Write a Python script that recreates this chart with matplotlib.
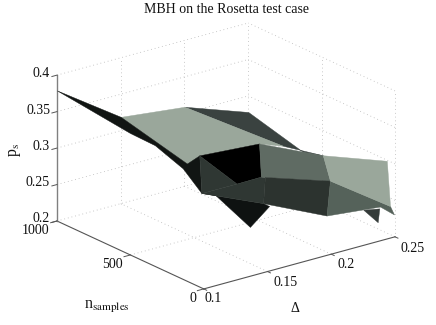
import matplotlib
matplotlib.use("Agg")
import matplotlib.pyplot as plt
from mpl_toolkits.mplot3d import proj3d
from mpl_toolkits.mplot3d.art3d import Poly3DCollection

plt.rcParams['font.family'] = ['Liberation Serif', 'DejaVu Serif']
plt.rcParams['mathtext.fontset'] = 'stix'

delta_ticks = [0.1, 0.15, 0.2, 0.25]
n_ticks = [0, 500, 1000]
p_ticks = [0.2, 0.25, 0.3, 0.35, 0.4]
delta_labels = ["0.1", "0.15", "0.2", "0.25"]
n_labels = ["0", "500", "1000"]
p_labels = ["0.2", "0.25", "0.3", "0.35", "0.4"]

# surface vertices
vert_delta = [0.1, 0.15, 0.2, 0.25, 0.25, 0.25, 0.25, 0.25, 0.2, 0.2,
              0.25, 0.25, 0.25, 0.25, 0.15, 0.15, 0.2, 0.15, 0.15, 0.15,
              0.15, 0.1, 0.15, 0.15, 0.16, 0.15, 0.15, 0.2, 0.25, 0.1,
              0.1, 0.1]
vert_n = [1000, 1000, 1000, 1000, 492, 56, 34, 7, 9, 32,
          107, 118, 216, 102, 18, 45, 492, 465, 483, 517,
          549, 16, 211, 30, 76, 120, 358, 329, 626, 143,
          333, 503]
vert_p = [0.379, 0.319, 0.309, 0.278, 0.266, 0.299, 0.239, 0.230, 0.300, 0.250,
          0.229, 0.209, 0.217, 0.232, 0.328, 0.326, 0.306, 0.316, 0.312, 0.301,
          0.297, 0.330, 0.301, 0.291, 0.278, 0.250, 0.272, 0.318, 0.258, 0.352,
          0.366, 0.367]

# visible faces, back to front
faces = [
    [2, 3, 28, 4, 27],
    [1, 2, 27, 16, 17, 18, 19, 20],
    [0, 1, 20, 17, 21, 29, 30, 31],
    [21, 26, 25, 24, 23],
    [17, 16, 15, 22],
    [17, 22, 21],
    [21, 22, 15, 14, 23],
    [16, 4, 8, 14, 15],
    [14, 8, 9, 23],
    [12, 10, 11],
    [8, 6, 7, 13, 9],
    [4, 5, 6, 8],
]
face_colors = ['#3a4240', '#9aa79b', '#111513', '#0e1211', '#000000', '#2f3733',
               '#2f3733', '#5f6b63', '#2c332f', '#343b39', '#55625a', '#9aa79b']

fig = plt.figure(figsize=(4.36, 3.25), dpi=100)
ax = fig.add_axes([0, 0, 1, 1], projection='3d', proj_type='ortho')
ax.computed_zorder = False
ax.set_axis_off()
ax.view_init(elev=20.8, azim=-127.5)
ax.set_box_aspect((241, 241, 156))

grid = dict(color='#b8b8b8', lw=0.6, ls=(0, (1, 3.5)), zorder=1)
for z in p_ticks[1:]:
    ax.plot([0.1, 0.25], [1000, 1000], [z, z], **grid)
    ax.plot([0.25, 0.25], [0, 1000], [z, z], **grid)
for d in delta_ticks[1:]:
    ax.plot([d, d], [1000, 1000], [0.2, 0.4], **grid)
    ax.plot([d, d], [0, 1000], [0.2, 0.2], **grid)
for n in n_ticks[:2]:
    ax.plot([0.25, 0.25], [n, n], [0.2, 0.4], **grid)
for n in n_ticks[1:]:
    ax.plot([0.1, 0.25], [n, n], [0.2, 0.2], **grid)

for i, face in enumerate(faces):
    verts = [(vert_delta[k], vert_n[k], vert_p[k]) for k in face]
    poly = Poly3DCollection([verts], facecolors=face_colors[i], edgecolors=face_colors[i],
                            linewidths=0.3, zorder=3 + i)
    ax.add_collection3d(poly, autolim=False)

# axis lines and ticks
ax.plot([0.1, 0.25], [0, 0], [0.2, 0.2], color='#555555', lw=0.8, zorder=2)
ax.plot([0.1, 0.1], [0, 1000], [0.2, 0.2], color='#555555', lw=0.8, zorder=2)
ax.plot([0.1, 0.1], [1000, 1000], [0.2, 0.4], color='#808080', lw=1.0, zorder=2)
for d in delta_ticks:
    ax.plot([d, d], [0, -20], [0.2, 0.2], color='#555555', lw=0.7, zorder=2)
for n in n_ticks:
    ax.plot([0.1, 0.095], [n, n], [0.2, 0.2], color='#555555', lw=0.7, zorder=2)
for z in p_ticks:
    ax.plot([0.1, 0.096], [1000, 1000], [z, z], color='#555555', lw=0.7, zorder=2)

ax.set_xlim(0.1, 0.25, view_margin=0)
ax.set_ylim(0, 1000, view_margin=0)
ax.set_zlim(0.2, 0.4, view_margin=0)


def corner_px(x, y, z):
    xs, ys, _ = proj3d.proj_transform(x, y, z, ax.get_proj())
    return ax.transData.transform((xs, ys))


# scale and move the axes so the box corners land where the reference has them
W, H = 436.0, 325.0
side = 400.0
pos = [0.0, 0.0, side / W, side / H]
ax.set_position(pos)
for _ in range(3):
    fig.canvas.draw()
    a = corner_px(0.1, 1000, 0.2)
    b = corner_px(0.25, 0, 0.2)
    side *= (395.0 - 57.0) / (b[0] - a[0])
    pos = [0.0, 0.0, side / W, side / H]
    ax.set_position(pos)
    fig.canvas.draw()
    a = corner_px(0.1, 1000, 0.2)
    pos[0] += (57.0 - a[0]) / W
    pos[1] += ((H - 221.0) - a[1]) / H
    ax.set_position(pos)


def put(x, y, s, size=10, **kw):
    fig.text(x / W, 1 - y / H, s, fontsize=size, ha='center', va='center', color='#111111', **kw)


put(226, 9.5, "MBH on the Rosetta test case", size=10)
for label, x, y in zip(p_labels, [41, 38, 41, 38, 41], [219, 183, 146, 110, 73]):
    put(x, y, label)
for label, x, y in zip(n_labels, [193, 112, 36], [298, 265, 231]):
    put(x, y, label)
for label, x, y in zip(delta_labels, [213, 286, 346, 413], [299, 282, 265, 248]):
    put(x, y, label)
put(15, 150, r"p$_{\mathrm{s}}$", size=11.5, rotation=90)
put(107, 306, r"n$_{\mathrm{samples}}$", size=11.5)
put(295, 308, "Δ")

fig.savefig("out.png", dpi=100)
